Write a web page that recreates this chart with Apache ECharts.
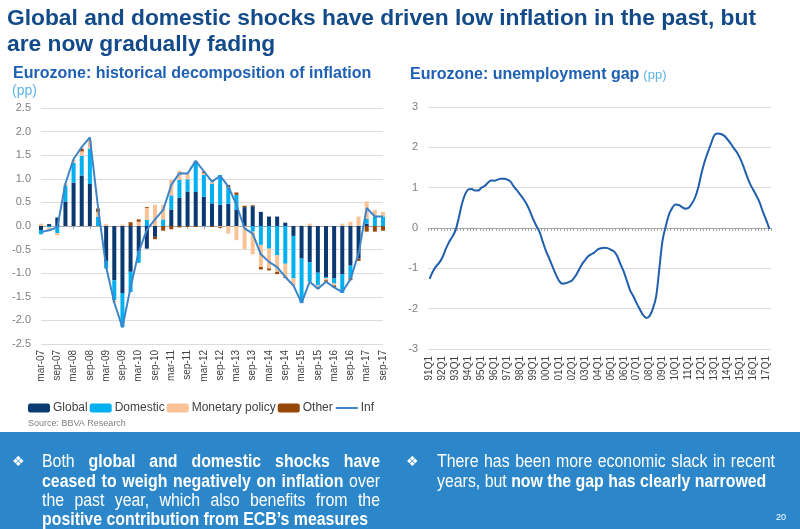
<!DOCTYPE html>
<html><head><meta charset="utf-8">
<script src="https://cdn.jsdelivr.net/npm/echarts@6/dist/echarts.min.js"></script>
<style>html,body{margin:0;padding:0;background:#fff}#c{width:800px;height:529px}</style>
</head><body><div id="c"></div>
<script>
// ---------- data: left chart (quarterly, pp) ----------
const quarters = ['mar-07','jun-07','sep-07','dec-07','mar-08','jun-08','sep-08','dec-08','mar-09','jun-09','sep-09','dec-09',
  'mar-10','jun-10','sep-10','dec-10','mar-11','jun-11','sep-11','dec-11','mar-12','jun-12','sep-12','dec-12',
  'mar-13','jun-13','sep-13','dec-13','mar-14','jun-14','sep-14','dec-14','mar-15','jun-15','sep-15','dec-15',
  'mar-16','jun-16','sep-16','dec-16','mar-17','jun-17','sep-17'];
const globalShock = [-0.085,0.04,0.18,0.52,0.92,1.07,0.89,0,-0.74,-1.15,-1.42,-0.97,
  -0.53,-0.48,-0.23,0,0.35,0.6,0.73,0.72,0.62,0.48,0.45,0.47,
  0.35,0.4,0.42,0.3,0.2,0.2,0.07,-0.21,-0.69,-0.77,-0.99,-1.08,
  -1.11,-1.02,-0.84,-0.69,0.05,0,0];
const domesticShock = [-0.09,-0.03,-0.15,0.33,0.42,0.42,0.75,0.2,-0.16,-0.42,-0.72,-0.43,
  -0.25,0.13,0,0.14,0.3,0.38,0.26,0.65,0.46,0.42,0.63,0.35,
  0.31,0,-0.12,-0.4,-0.48,-0.62,-0.8,-0.9,-0.94,-0.41,-0.27,-0.03,
  -0.11,-0.4,-0.27,0,0.1,0.2,0.2];
const monetaryPolicy = [0.05,-0.07,-0.05,0.05,0.07,0.09,0.18,0.1,0.04,-0.05,0.03,0,
  0.09,0.25,0.45,0.31,0.33,0.19,0.11,0.01,0.04,0.04,-0.02,-0.16,
  -0.3,-0.49,-0.48,-0.47,-0.42,-0.35,-0.28,-0.15,0.01,0.05,-0.04,-0.04,
  -0.04,0.05,0.09,0.2,0.37,0.14,0.1];
const otherShock = [0,0,0,0,0,0.06,0,0.07,0,0,0,0.08,
  0.05,0.02,-0.05,-0.1,-0.07,-0.03,-0.02,-0.02,0.03,-0.02,-0.02,0.05,
  0.05,0.03,0.02,-0.05,-0.04,-0.05,-0.02,0,0,0,-0.03,-0.03,
  -0.04,0,-0.04,-0.05,-0.12,-0.12,-0.1];
const inflation = [-0.13,-0.09,-0.03,0.9,1.42,1.67,1.88,0.4,-0.87,-1.62,-2.15,-1.3,
  -0.55,-0.08,0.14,0.34,0.87,1.12,1.11,1.38,1.16,0.94,1.06,0.84,
  0.45,-0.05,-0.16,-0.6,-0.76,-0.87,-1.08,-1.26,-1.63,-1.18,-1.33,-1.18,
  -1.3,-1.4,-1.13,-0.58,0.38,0.2,0.2];
const seriesNames = ['Global','Domestic','Monetary policy','Other','Inf'];

// ---------- data: right chart (unemployment gap, pp) ----------
const gapQuarters = ['91Q1','91Q2','91Q3','91Q4','92Q1','92Q2','92Q3','92Q4','93Q1','93Q2','93Q3','93Q4',
  '94Q1','94Q2','94Q3','94Q4','95Q1','95Q2','95Q3','95Q4','96Q1','96Q2','96Q3','96Q4',
  '97Q1','97Q2','97Q3','97Q4','98Q1','98Q2','98Q3','98Q4','99Q1','99Q2','99Q3','99Q4',
  '00Q1','00Q2','00Q3','00Q4','01Q1','01Q2','01Q3','01Q4','02Q1','02Q2','02Q3','02Q4',
  '03Q1','03Q2','03Q3','03Q4','04Q1','04Q2','04Q3','04Q4','05Q1','05Q2','05Q3','05Q4',
  '06Q1','06Q2','06Q3','06Q4','07Q1','07Q2','07Q3','07Q4','08Q1','08Q2','08Q3','08Q4',
  '09Q1','09Q2','09Q3','09Q4','10Q1','10Q2','10Q3','10Q4','11Q1','11Q2','11Q3','11Q4',
  '12Q1','12Q2','12Q3','12Q4','13Q1','13Q2','13Q3','13Q4','14Q1','14Q2','14Q3','14Q4',
  '15Q1','15Q2','15Q3','15Q4','16Q1','16Q2','16Q3','16Q4','17Q1','17Q2'];
const unemploymentGap = [-1.26,-1.08,-0.95,-0.86,-0.72,-0.52,-0.35,-0.22,-0.06,0.25,0.6,0.84,
  0.96,0.97,0.93,0.93,1.0,1.04,1.12,1.18,1.17,1.2,1.22,1.22,
  1.2,1.15,1.03,0.93,0.83,0.72,0.59,0.42,0.22,0.05,-0.1,-0.35,
  -0.58,-0.76,-0.96,-1.15,-1.31,-1.38,-1.37,-1.34,-1.3,-1.2,-1.06,-0.91,
  -0.8,-0.7,-0.65,-0.6,-0.53,-0.5,-0.49,-0.5,-0.54,-0.58,-0.7,-0.9,
  -1.08,-1.32,-1.55,-1.7,-1.87,-2.02,-2.16,-2.23,-2.18,-2.0,-1.7,-1.0,
  -0.3,0.05,0.34,0.5,0.58,0.57,0.52,0.48,0.5,0.6,0.75,1.0,
  1.35,1.65,1.88,2.1,2.3,2.34,2.33,2.29,2.2,2.1,1.98,1.87,
  1.72,1.52,1.3,1.1,0.95,0.8,0.63,0.4,0.2,-0.02];

// ---------- texts ----------
const titleLines = ['Global and domestic shocks have driven low inflation in the past, but','are now gradually fading'];
const leftTitle = 'Eurozone: historical decomposition of inflation';
const rightTitle = 'Eurozone: unemployment gap';
const unitText = '(pp)';
const sourceText = 'Source: BBVA Research';
const leftBullet = [
  [['Both ',false],['global and domestic shocks have',true]],
  [['ceased to weigh negatively on inflation',true],[' over',false]],
  [['the past year, which also benefits from the',false]],
  [['positive contribution from ECB\u2019s measures',true]]
];
const rightBullet = [
  [['There has been more economic slack in recent',false]],
  [['years, but ',false],['now the gap has clearly narrowed',true]]
];
const pageNumber = '20';

// ---------- helpers ----------
const SANS = '"Liberation Sans",Arial,sans-serif';
const mctx = document.createElement('canvas').getContext('2d');
function measure(t, bold, size, fam){ mctx.font=(bold?'bold ':'')+size+'px '+(fam||SANS); return mctx.measureText(t).width; }
function txt(x,y,text,opt,sx){
  const el = {type:'text', x:x, y:y, silent:true, style:Object.assign({text:text, fill:'#000', fontSize:12, fontFamily:SANS,
    fontWeight:'normal', textAlign:'left', textVerticalAlign:'middle', align:'left', verticalAlign:'middle'}, opt||{})};
  if(sx){ el.scaleX = sx; el.scaleY = 1; el.originX = 0; el.originY = 0; }
  return el;
}
// bullet text: narrow look emulated by horizontal scale, calibrated on the last (unjustified) line
const BFS = 17.5;
const BSX = 326/measure(leftBullet[3][0][0],true,BFS);
function paraLine(segs, x, y, width, justify, size, color){
  const words=[];
  segs.forEach(([t,b])=>{ t.split(' ').forEach(w=>{ if(w) words.push([w,b]); }); });
  const widths = words.map(([w,b])=>measure(w,b,size)*BSX);
  const total = widths.reduce((a,c)=>a+c,0);
  const sp = measure(' ',false,size)*BSX;
  const gap = justify && words.length>1 ? Math.max(sp*0.8,(width-total)/(words.length-1)) : sp;
  let cx=x; const els=[];
  words.forEach(([w,b],i)=>{
    els.push(txt(cx,y,w,{fill:color,fontSize:size,fontWeight:b?'bold':'normal'},BSX));
    cx += widths[i]+gap;
  });
  return els;
}

const C_NAVY='#0b3a72', C_CYAN='#00b0f0', C_PEACH='#fac396', C_BROWN='#974806', C_INF='#3d85c8', C_GAP='#1f5fae';
const C_TITLE='#134a8a', C_SUB='#1e60b4', C_PP='#5cb3e6';

const graphics = [];
// main title (narrow bold emulated by horizontal scale)
const TFS = 22;
const tsx = 749/measure(titleLines[0],true,TFS);
graphics.push(txt(7,19,titleLines[0],{fill:C_TITLE,fontSize:TFS,fontWeight:'bold'},tsx));
graphics.push(txt(7,45,titleLines[1],{fill:C_TITLE,fontSize:TFS,fontWeight:'bold'},tsx));
// sub titles
graphics.push(txt(13,74,leftTitle,{fill:C_SUB,fontSize:16,fontWeight:'bold'}));
graphics.push(txt(12,91,unitText,{fill:C_PP,fontSize:14}));
graphics.push(txt(410,75,rightTitle,{fill:C_SUB,fontSize:16,fontWeight:'bold'}));
graphics.push(txt(410+measure(rightTitle,true,16)+4,75,unitText,{fill:C_PP,fontSize:13}));
// source
graphics.push(txt(28,424,sourceText,{fill:'#808080',fontSize:9}));
// blue panel
graphics.push({type:'rect', silent:true, shape:{x:0,y:432,width:800,height:97}, style:{fill:'#2b87c9'}});
graphics.push(txt(12,462,'\u2756',{fill:'#fff',fontSize:14,fontFamily:'"DejaVu Sans",sans-serif'}));
graphics.push(txt(406,462,'\u2756',{fill:'#fff',fontSize:14,fontFamily:'"DejaVu Sans",sans-serif'}));
const lineYs=[462,482,501,520];
leftBullet.forEach((segs,i)=>{ paraLine(segs,42,lineYs[i],338,i<3,BFS,'#fff').forEach(e=>graphics.push(e)); });
rightBullet.forEach((segs,i)=>{ paraLine(segs,437,lineYs[i],338,i<1,BFS,'#fff').forEach(e=>graphics.push(e)); });
graphics.push(txt(776,518,pageNumber,{fill:'#fff',fontSize:9}));

const axisLabelGray = {color:'#7f7f7f', fontSize:11, fontFamily:SANS};
const option = {
  animation:false,
  backgroundColor:'#fff',
  graphic:{elements:graphics},
  legend:{left:23, top:397, itemWidth:22, itemHeight:9, itemGap:2,
    data:[seriesNames[0],seriesNames[1],seriesNames[2],seriesNames[3],{name:seriesNames[4], itemStyle:{opacity:0}}],
    textStyle:{color:'#404040', fontSize:12, fontFamily:SANS, padding:[0,0,0,-2]}},
  grid:[
    {left:41, top:108, width:342, height:236, containLabel:false},
    {left:428, top:107, width:343, height:242, containLabel:false}
  ],
  xAxis:[
    {gridIndex:0, type:'category', data:quarters, boundaryGap:false,
      axisLine:{onZero:true, lineStyle:{color:'#a6a6a6', width:1}},
      axisTick:{show:true, interval:1, length:3, lineStyle:{color:'#a6a6a6'}},
      axisLabel:{show:false}, splitLine:{show:false}},
    {gridIndex:0, type:'category', data:quarters, boundaryGap:false, position:'bottom',
      axisLine:{show:false, onZero:false}, axisTick:{show:false}, splitLine:{show:false},
      axisLabel:{interval:1, rotate:90, margin:6, color:'#404040', fontSize:10, fontFamily:SANS}},
    {gridIndex:1, type:'category', data:gapQuarters, boundaryGap:true,
      axisLine:{onZero:true, lineStyle:{color:'#a6a6a6', width:1}},
      axisTick:{show:true, interval:0, length:3, lineStyle:{color:'#a6a6a6'}},
      axisLabel:{show:false}, splitLine:{show:false}},
    {gridIndex:1, type:'category', data:gapQuarters, boundaryGap:true, position:'bottom',
      axisLine:{show:false, onZero:false}, axisTick:{show:false}, splitLine:{show:false},
      axisLabel:{interval:3, rotate:90, margin:7, color:'#404040', fontSize:10, fontFamily:SANS}}
  ],
  yAxis:[
    {gridIndex:0, type:'value', min:-2.5, max:2.5, interval:0.5,
      axisLine:{show:false}, axisTick:{show:false},
      axisLabel:Object.assign({margin:10, formatter:v=>v.toFixed(1)}, axisLabelGray),
      splitLine:{lineStyle:{color:'#dcdcdc', width:1}}},
    {gridIndex:1, type:'value', min:-3, max:3, interval:1,
      axisLine:{show:false}, axisTick:{show:false},
      axisLabel:Object.assign({margin:10}, axisLabelGray),
      splitLine:{lineStyle:{color:'#dcdcdc', width:1}}}
  ],
  series:[
    {name:seriesNames[0], type:'bar', xAxisIndex:0, yAxisIndex:0, stack:'dec', data:globalShock, barWidth:4, itemStyle:{color:C_NAVY}},
    {name:seriesNames[1], type:'bar', xAxisIndex:0, yAxisIndex:0, stack:'dec', data:domesticShock, barWidth:4, itemStyle:{color:C_CYAN}},
    {name:seriesNames[2], type:'bar', xAxisIndex:0, yAxisIndex:0, stack:'dec', data:monetaryPolicy, barWidth:4, itemStyle:{color:C_PEACH}},
    {name:seriesNames[3], type:'bar', xAxisIndex:0, yAxisIndex:0, stack:'dec', data:otherShock, barWidth:4, itemStyle:{color:C_BROWN}},
    {name:seriesNames[4], type:'line', xAxisIndex:0, yAxisIndex:0, data:inflation, symbol:'none', lineStyle:{color:C_INF, width:2}, itemStyle:{color:C_INF}, z:5},
    {name:'gap', type:'line', xAxisIndex:2, yAxisIndex:1, data:unemploymentGap, symbol:'none', smooth:0.35, lineStyle:{color:C_GAP, width:2}, itemStyle:{color:C_GAP}}
  ]
};
const chart = echarts.init(document.getElementById('c'), null, {renderer:'canvas'});
chart.setOption(option);
</script></body></html>
